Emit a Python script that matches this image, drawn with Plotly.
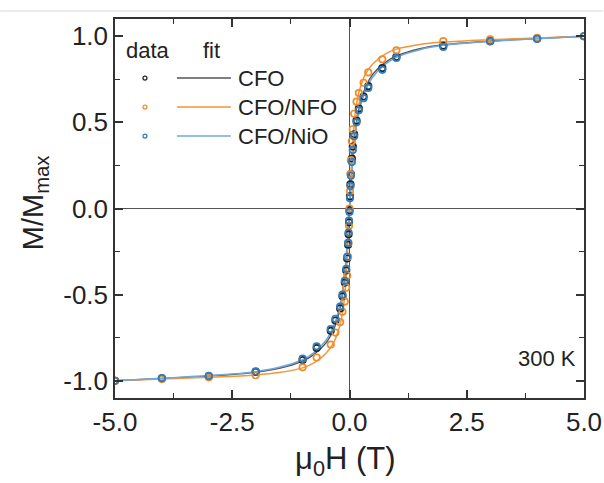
import plotly.graph_objects as go

# ---------------- data ----------------
field_data = [-5, -4, -3, -2, -1, -0.7, -0.4, -0.3, -0.2, -0.15, -0.1, -0.07, -0.05, -0.03, -0.02, -0.01, 0,
              0.01, 0.02, 0.03, 0.05, 0.07, 0.1, 0.15, 0.2, 0.3, 0.4, 0.7, 1, 2, 3, 4, 5]
cfo_data = [-1.0, -0.986, -0.974, -0.948, -0.88, -0.81, -0.71, -0.65, -0.58, -0.51, -0.43, -0.36, -0.29, -0.21, -0.15, -0.08, -0.01,
            0.07, 0.14, 0.20, 0.29, 0.36, 0.43, 0.51, 0.58, 0.65, 0.71, 0.815, 0.88, 0.945, 0.972, 0.986, 1.0]
nfo_data = [-1.0, -0.99, -0.98, -0.968, -0.922, -0.865, -0.79, -0.72, -0.66, -0.60, -0.54, -0.46, -0.39, -0.28, -0.20, -0.10, 0.0,
            0.10, 0.20, 0.28, 0.39, 0.46, 0.55, 0.62, 0.67, 0.73, 0.79, 0.866, 0.918, 0.971, 0.982, 0.99, 1.0]
nio_data = [-1.0, -0.985, -0.972, -0.945, -0.872, -0.80, -0.70, -0.64, -0.57, -0.50, -0.42, -0.35, -0.28, -0.20, -0.14, -0.07, -0.02,
            0.06, 0.13, 0.19, 0.27, 0.34, 0.42, 0.50, 0.57, 0.64, 0.70, 0.805, 0.874, 0.938, 0.97, 0.985, 1.0]

field_fit = [-5, -4, -3, -2, -1.5, -1, -0.75, -0.5, -0.35, -0.25, -0.18, -0.12, -0.08, -0.05, -0.03, -0.015, 0,
             0.015, 0.03, 0.05, 0.08, 0.12, 0.18, 0.25, 0.35, 0.5, 0.75, 1, 1.5, 2, 3, 4, 5]
cfo_fit = [-1.0, -0.987, -0.972, -0.95, -0.927, -0.885, -0.845, -0.78, -0.71, -0.63, -0.55, -0.44, -0.33, -0.22, -0.14, -0.07, 0,
           0.07, 0.14, 0.22, 0.33, 0.44, 0.55, 0.63, 0.71, 0.78, 0.845, 0.885, 0.927, 0.95, 0.972, 0.987, 1.0]
nfo_fit = [-1.0, -0.99, -0.98, -0.966, -0.952, -0.925, -0.895, -0.84, -0.785, -0.72, -0.65, -0.55, -0.43, -0.30, -0.18, -0.09, 0,
           0.09, 0.18, 0.30, 0.43, 0.55, 0.65, 0.72, 0.785, 0.84, 0.895, 0.925, 0.952, 0.966, 0.98, 0.99, 1.0]
nio_fit = [-1.0, -0.985, -0.97, -0.947, -0.922, -0.878, -0.835, -0.765, -0.69, -0.61, -0.53, -0.42, -0.31, -0.20, -0.12, -0.06, 0,
           0.06, 0.12, 0.20, 0.31, 0.42, 0.53, 0.61, 0.69, 0.765, 0.835, 0.878, 0.922, 0.947, 0.97, 0.985, 1.0]

series_names = ["CFO", "CFO/NFO", "CFO/NiO"]
marker_colors = ["#222222", "#F28C28", "#2F7DBF"]
line_colors = ["#555555", "#F5953A", "#6FA8DC"]

x_ticks = [-5.0, -2.5, 0.0, 2.5, 5.0]
y_ticks = [-1.0, -0.5, 0.0, 0.5, 1.0]

FONT = "Liberation Sans, Arial, sans-serif"

fig = go.Figure()

fits = [cfo_fit, nfo_fit, nio_fit]
datas = [cfo_data, nfo_data, nio_data]
for i in range(3):
    fig.add_trace(go.Scatter(x=field_fit, y=fits[i], mode="lines", line=dict(color=line_colors[i], width=1.5, shape="spline"),
                             showlegend=False, hoverinfo="skip"))
for i in range(3):
    fig.add_trace(go.Scatter(x=field_data, y=datas[i], mode="markers",
                             marker=dict(symbol="circle-open", size=6.5, color=marker_colors[i], line=dict(width=1.7)),
                             showlegend=False))

axis_common = dict(showline=True, linecolor="#333333", linewidth=1.5, mirror="ticks", ticks="inside",
                   ticklen=8, tickwidth=1.5, tickcolor="#333333", showgrid=False, automargin=False,
                   zeroline=True, zerolinecolor="#555555", zerolinewidth=1.3,
                   tickfont=dict(family=FONT, size=26, color="#222222"))

fig.update_xaxes(range=[-5, 5], tickvals=x_ticks, ticktext=[f"{v:.1f}" for v in x_ticks],
                 ticklabeloverflow="allow",
                 minor=dict(ticks="inside", ticklen=5, tickwidth=1.2, tickcolor="#333333", dtick=1.25, tick0=0),
                 **axis_common)
fig.update_yaxes(range=[-1.1, 1.1], tickvals=y_ticks, ticktext=[f"{v:.1f}" for v in y_ticks],
                 minor=dict(ticks="inside", ticklen=5, tickwidth=1.2, tickcolor="#333333", dtick=0.25, tick0=0),
                 **axis_common)

# ---- custom legend (positions in screen pixels of the reference, mapped to paper units) ----
def px2paper_x(px):
    return (px - 115) / 469.5

def px2paper_y(py):
    return (397.7 - py) / 378.7

def ann(text, px, py, size, xanchor="center", angle=0):
    return dict(text=text, x=px2paper_x(px), y=px2paper_y(py), xref="paper", yref="paper", showarrow=False,
                xanchor=xanchor, yanchor="middle", textangle=angle,
                font=dict(family=FONT, size=size, color="#222"))

annotations = [
    ann("data", 148, 50, 22),
    ann("fit", 212, 50, 22),
    ann("300 K", 578, 358, 22, xanchor="right"),
    ann("M/M<sub>max</sub>", 35, 203, 29, angle=-90),
    ann("μ<sub>0</sub>H (T)", 346, 461, 31),
]
shapes = []
row_y = [78, 107, 136]
for i in range(3):
    yy = px2paper_y(row_y[i])
    annotations.append(ann(series_names[i], 236, row_y[i], 22, xanchor="left"))
    shapes.append(dict(type="line", xref="paper", yref="paper", x0=px2paper_x(177), x1=px2paper_x(231),
                       y0=yy, y1=yy, line=dict(color=line_colors[i], width=1.5)))
    shapes.append(dict(type="circle", xref="paper", yref="paper", xsizemode="pixel", ysizemode="pixel",
                       xanchor=px2paper_x(145), yanchor=yy, x0=-2, x1=2, y0=-2, y1=2,
                       line=dict(color=marker_colors[i], width=1.2)))

# light separator line at the top of the image
shapes.append(dict(type="line", xref="paper", yref="paper", x0=px2paper_x(0), x1=px2paper_x(604),
                   y0=px2paper_y(11), y1=px2paper_y(11), line=dict(color="#d8d8d8", width=1)))

fig.update_layout(width=604, height=483, margin=dict(l=115, r=19.5, t=19, b=85.3, autoexpand=False),
                  paper_bgcolor="white", plot_bgcolor="white",
                  annotations=annotations, shapes=shapes, showlegend=False)

# remove the default 8px page margin so the figure fills the window exactly
fig.write_html("out.html", config={"displayModeBar": False},
               post_script="document.body.style.margin='0';document.body.style.overflow='hidden';")
